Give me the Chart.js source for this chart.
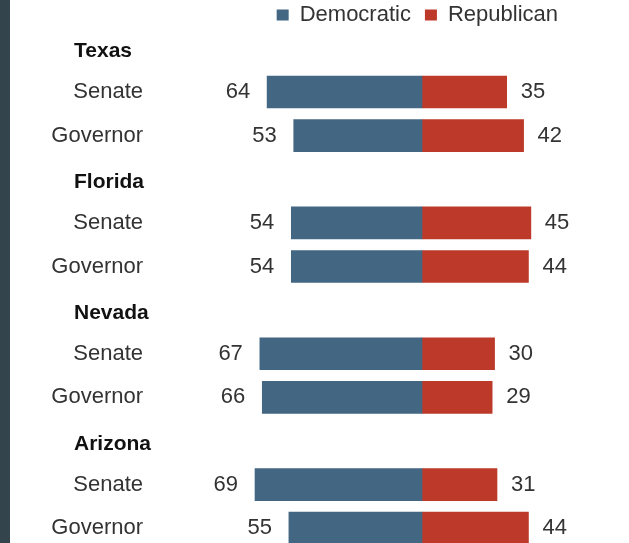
<!DOCTYPE html>
<html>
<head>
<meta charset="utf-8">
<script src="https://cdn.jsdelivr.net/npm/chart.js@4"></script>
<style>
  html, body { margin: 0; padding: 0; background: #fff; overflow: hidden; }
  .strip { position: absolute; left: 0; top: 0; width: 10px; height: 543px; background: #34444c; z-index: 2; }
  .wrap { position: absolute; left: 0; top: 0; width: 629px; height: 560px; }
</style>
</head>
<body>
<div class="strip"></div>
<div class="wrap"><canvas id="chart"></canvas></div>
<script>
// 行标签：州名（标题行）+ 选举类型
const rowLabels = ['Texas', 'Senate', 'Governor', 'Florida', 'Senate', 'Governor',
                   'Nevada', 'Senate', 'Governor', 'Arizona', 'Senate', 'Governor'];
const isHeader = [true, false, false, true, false, false, true, false, false, true, false, false];
// 民主党 / 共和党 支持率（标题行为空）
const demValues = [null, 64, 53, null, 54, 54, null, 67, 66, null, 69, 55];
const repValues = [null, 35, 42, null, 45, 44, null, 30, 29, null, 31, 44];

const DEM = '#436783';
const REP = '#bd3a2a';
const FONT = 'Liberation Sans, Arial, sans-serif';

// 自绘行标签和数值
const labelPlugin = {
  id: 'rowText',
  afterDatasetsDraw(chart) {
    const ctx = chart.ctx;
    const x = chart.scales.x;
    const y = chart.scales.y;
    ctx.save();
    ctx.textBaseline = 'middle';
    rowLabels.forEach((lab, i) => {
      const py = y.getPixelForValue(i);
      if (isHeader[i]) {
        ctx.font = 'bold 21px ' + FONT;
        ctx.fillStyle = '#111';
        ctx.textAlign = 'left';
        ctx.fillText(lab, 74, py + 3);
        return;
      }
      ctx.font = '22px ' + FONT;
      ctx.fillStyle = '#333';
      ctx.textAlign = 'right';
      ctx.fillText(lab, 143, py);
      const left = x.getPixelForValue(-demValues[i]);
      const right = x.getPixelForValue(repValues[i]);
      ctx.fillText(String(demValues[i]), left - 17, py);
      ctx.textAlign = 'left';
      ctx.fillText(String(repValues[i]), right + 14, py);
    });
    ctx.restore();
  }
};

new Chart(document.getElementById('chart'), {
  type: 'bar',
  data: {
    labels: rowLabels,
    datasets: [
      { label: 'Democratic', data: demValues.map(v => v === null ? null : -v), backgroundColor: DEM, barThickness: 32 },
      { label: 'Republican', data: repValues, backgroundColor: REP, barThickness: 32 }
    ]
  },
  options: {
    indexAxis: 'y',
    responsive: true,
    maintainAspectRatio: false,
    animation: false,
    layout: { padding: { left: 180, right: 57, top: -10, bottom: 10 } },
    plugins: {
      legend: {
        display: true,
        position: 'top',
        align: 'end',
        maxHeight: 36.6,
        labels: {
          boxWidth: 12,
          boxHeight: 11,
          padding: 14,
          color: '#333',
          font: { family: FONT, size: 22 }
        }
      },
      tooltip: { enabled: false }
    },
    scales: {
      x: { stacked: true, display: false, min: -100, max: 62 },
      y: { stacked: true, display: false }
    }
  },
  plugins: [labelPlugin]
});
</script>
</body>
</html>
